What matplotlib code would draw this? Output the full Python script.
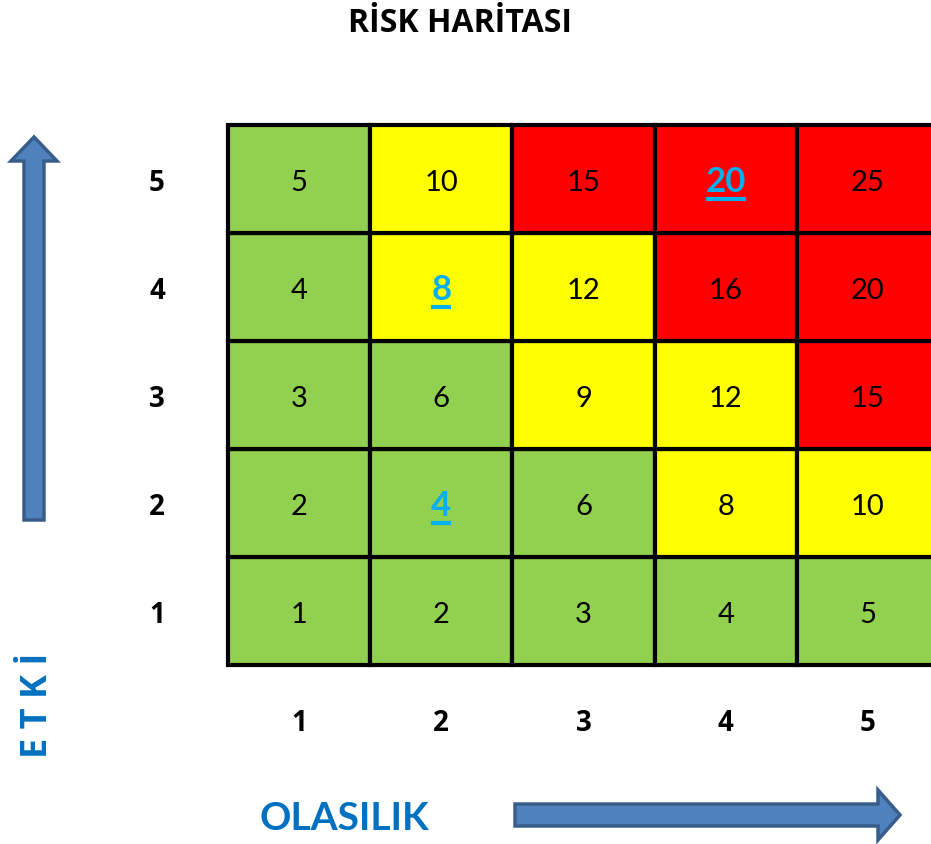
import matplotlib.pyplot as plt
from matplotlib.patches import Rectangle, FancyArrow

# =========================
# DATA
# =========================
olasilik = [1, 2, 3, 4, 5]          # x categories
etki = [1, 2, 3, 4, 5]              # y categories

# risk scores, rows from etki=1 (bottom) to etki=5 (top)
scores = [
    [1, 2, 3, 4, 5],
    [2, 4, 6, 8, 10],
    [3, 6, 9, 12, 15],
    [4, 8, 12, 16, 20],
    [5, 10, 15, 20, 25],
]

# colour level per cell: g = low, y = medium, r = high
levels = [
    ["g", "g", "g", "g", "g"],
    ["g", "g", "g", "y", "y"],
    ["g", "g", "y", "y", "r"],
    ["g", "y", "y", "r", "r"],
    ["g", "y", "r", "r", "r"],
]

# highlighted cells (olasilik, etki)
highlight = [(2, 2), (2, 4), (4, 5)]

colors = {"g": "#92D050", "y": "#FFFF00", "r": "#FF0000"}

W, H = 931, 844
fig = plt.figure(figsize=(W / 100, H / 100), dpi=100)

# overlay axes in pixel units for title / labels / arrows
bg = fig.add_axes([0, 0, 1, 1])
bg.set_xlim(0, W)
bg.set_ylim(H, 0)
bg.axis("off")

# =========================
# MATRIX
# =========================
x0, x1, y0, y1 = 228, 939, 125, 665
ax = fig.add_axes([x0 / W, (H - y1) / H, (x1 - x0) / W, (y1 - y0) / H])
ax.set_xlim(0.5, 5.5)
ax.set_ylim(0.5, 5.5)
ax.axis("off")

fig.canvas.draw()
renderer = fig.canvas.get_renderer()

for i, e in enumerate(etki):
    for j, o in enumerate(olasilik):
        ax.add_patch(Rectangle((o - 0.5, e - 0.5), 1, 1,
                               facecolor=colors[levels[i][j]],
                               edgecolor="black", linewidth=3, clip_on=False))
        if (o, e) in highlight:
            t = ax.text(o, e - 0.03, str(scores[i][j]), ha="center", va="center",
                        fontsize=25, fontweight="bold", color="#00B0F0",
                        family=["Lato", "DejaVu Sans"])
            bb = t.get_window_extent(renderer).transformed(ax.transData.inverted())
            ax.plot([bb.x0, bb.x1], [bb.y0 - 0.005, bb.y0 - 0.005],
                    color="#00B0F0", lw=3, solid_capstyle="butt")
        else:
            ax.text(o, e - 0.035, str(scores[i][j]), ha="center", va="center",
                    fontsize=21, fontweight="normal", color="black",
                    family=["Lato", "DejaVu Sans"])

# tick labels
for o in olasilik:
    ax.text(o, 0.5 - 0.54, str(o), ha="center", va="center", fontsize=20,
            fontweight="bold", family=["Open Sans", "DejaVu Sans"], clip_on=False)
for e in etki:
    ax.text(0.5 - 0.5, e - 0.04, str(e), ha="center", va="center", fontsize=20,
            fontweight="bold", family=["Open Sans", "DejaVu Sans"], clip_on=False)

# =========================
# TITLE / LABELS / ARROWS
# =========================
bg.text(460, 23, "RİSK HARİTASI", ha="center", va="center", fontsize=23,
        fontweight="bold", family=["Open Sans", "DejaVu Sans"])
bg.text(344, 819, "OLASILIK", ha="center", va="center", fontsize=28,
        fontweight="bold", color="#0070C0", family=["Lato", "DejaVu Sans"])
bg.text(38, 705, "E T K İ", ha="center", va="center", fontsize=26,
        fontweight="bold", color="#0070C0", rotation=90,
        family=["Open Sans", "DejaVu Sans"])

bg.add_patch(FancyArrow(34, 520, 0, -383, width=20, head_width=46,
                        head_length=24, length_includes_head=True,
                        facecolor="#4F81BD", edgecolor="#385D8A", linewidth=2.5))
bg.add_patch(FancyArrow(515, 815, 385, 0, width=22, head_width=50,
                        head_length=22, length_includes_head=True,
                        facecolor="#4F81BD", edgecolor="#385D8A", linewidth=2.5))

fig.savefig("out.png", dpi=100)
